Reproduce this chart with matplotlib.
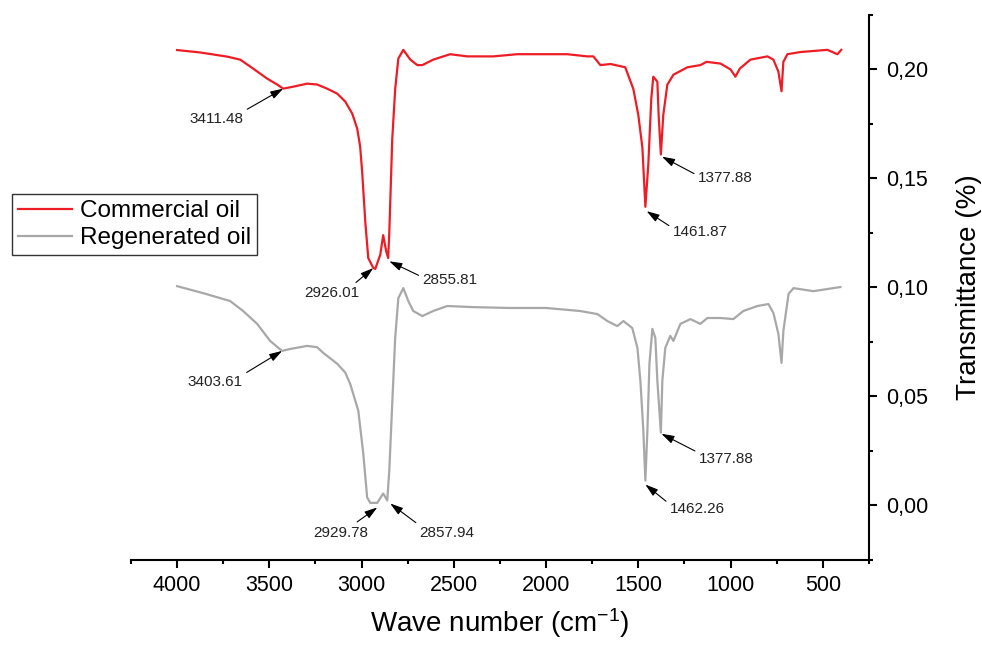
import matplotlib
matplotlib.use('Agg')
import matplotlib.pyplot as plt
from matplotlib.ticker import MultipleLocator, FuncFormatter

plt.rcParams['font.family'] = ['Liberation Sans', 'DejaVu Sans']
plt.rcParams['mathtext.fontset'] = 'custom'
plt.rcParams['mathtext.rm'] = 'Liberation Sans'
plt.rcParams['mathtext.it'] = 'Liberation Sans:italic'

# FTIR spectra (wave number, transmittance)
commercial_x = [4000, 3875, 3729, 3658, 3588, 3512, 3458, 3425, 3371, 3295, 3241, 3187,
                3132, 3089, 3051, 3024, 3008, 2997, 2980, 2964, 2937, 2926, 2899, 2883,
                2867, 2856, 2850, 2834, 2818, 2801, 2774, 2736, 2698, 2671, 2612, 2520,
                2427, 2286, 2156, 1885, 1777, 1744, 1706, 1650, 1571, 1527, 1500, 1478,
                1462, 1446, 1430, 1419, 1397, 1390, 1378, 1365, 1343, 1310, 1234, 1164,
                1130, 1055, 1000, 974, 950, 893, 800, 768, 741, 724, 714, 692, 621,
                475, 421, 400]
commercial_y = [0.2089, 0.2078, 0.2059, 0.2045, 0.2004, 0.1958, 0.1931, 0.1912, 0.1921, 0.1935, 0.1931, 0.1912,
                0.1889, 0.1853, 0.1798, 0.1729, 0.1647, 0.153, 0.130, 0.1135, 0.109, 0.1085, 0.115, 0.124,
                0.1167, 0.1135, 0.125, 0.168, 0.191, 0.205, 0.209, 0.2045, 0.202, 0.202, 0.2045, 0.207,
                0.206, 0.206, 0.207, 0.207, 0.206, 0.206, 0.202, 0.2025, 0.201, 0.191, 0.179, 0.164,
                0.137, 0.1565, 0.1865, 0.1967, 0.1944, 0.179, 0.161, 0.179, 0.193, 0.1976, 0.201, 0.202,
                0.2035, 0.2027, 0.200, 0.1967, 0.2004, 0.2045, 0.206, 0.2045, 0.199, 0.190, 0.2035, 0.207, 0.208,
                0.209, 0.207, 0.209]

regenerated_x = [4000, 3859, 3713, 3642, 3566, 3496, 3458, 3431, 3387, 3295, 3241, 3208,
                 3132, 3089, 3062, 3018, 2991, 2970, 2953, 2915, 2883, 2861, 2850, 2834,
                 2818, 2801, 2774, 2747, 2720, 2671, 2612, 2536, 2400, 2200, 2000, 1815,
                 1722, 1668, 1614, 1581, 1533, 1505, 1489, 1473, 1462, 1451, 1440, 1424,
                 1408, 1397, 1378, 1370, 1354, 1327, 1310, 1272, 1218, 1164, 1126, 1055,
                 985, 931, 855, 795, 768, 741, 724, 714, 686, 659, 551, 405]
regenerated_y = [0.1006, 0.0974, 0.0938, 0.0892, 0.0833, 0.0755, 0.0728, 0.0709, 0.0718, 0.0732, 0.0726, 0.070,
                 0.065, 0.0610, 0.0558, 0.0435, 0.0238, 0.0037, 0.0012, 0.0012, 0.0055, 0.0023, 0.016, 0.0467,
                 0.0769, 0.0951, 0.0997, 0.0938, 0.0892, 0.0869, 0.0892, 0.0915, 0.091, 0.0906, 0.0906, 0.0892,
                 0.0878, 0.0846, 0.0823, 0.0846, 0.0814, 0.0723, 0.0572, 0.0343, 0.0114, 0.0343, 0.065, 0.081,
                 0.0769, 0.0572, 0.0334, 0.0572, 0.0723, 0.0778, 0.0755, 0.0833, 0.0855, 0.0833, 0.086, 0.086,
                 0.0855, 0.0892, 0.0915, 0.0924, 0.0883, 0.0787, 0.0654, 0.080, 0.097, 0.0997, 0.0983, 0.1002]

# peak labels and the points their arrows touch
peak_labels = ['3411.48', '2926.01', '2855.81', '1461.87', '1377.88',
               '3403.61', '2929.78', '2857.94', '1462.26', '1377.88']
peak_x = [3425, 2937, 2850, 1455, 1372, 3431, 2915, 2845, 1462, 1375]
peak_y = [0.1912, 0.1089, 0.112, 0.135, 0.160, 0.0709, -0.0009, 0.0009, 0.0096, 0.0329]

# where the labels sit, and which corner of the label the arrow leaves from
label_x = [3788, 3159, 2520, 1164, 1028, 3794, 3111, 2536, 1180, 1023]
label_y = [0.1775, 0.0974, 0.1034, 0.1253, 0.150, 0.0567, -0.0124, -0.0124, -0.0014, 0.0215]
label_rel = [(1, 1), (0.85, 1), (0, 0.7), (0, 0.8), (0, 0.7),
             (1, 1), (0.7, 1), (0, 1), (0, 0.8), (0, 0.9)]

fig = plt.figure(figsize=(9.82, 6.45), dpi=100)
ax = fig.add_axes([0.1334, 0.1318, 0.7515, 0.845])

ax.plot(commercial_x, commercial_y, color='#ee1c25', lw=1.6, label='Commercial oil')
ax.plot(regenerated_x, regenerated_y, color='#a8a8a8', lw=1.6, label='Regenerated oil')

for lab, px, py, tx, ty, rp in zip(peak_labels, peak_x, peak_y, label_x, label_y, label_rel):
    ax.annotate(lab, xy=(px, py), xytext=(tx, ty), ha='center', va='center',
                fontsize=11, color='#222222',
                arrowprops=dict(arrowstyle='-|>,head_length=0.7,head_width=0.22',
                                color='black', lw=0.8, relpos=rp,
                                shrinkA=1, shrinkB=0))

ax.set_xlim(4250, 250)
ax.set_ylim(-0.025, 0.225)

ax.spines['left'].set_visible(False)
ax.spines['top'].set_visible(False)
ax.spines['right'].set_linewidth(1.5)
ax.spines['bottom'].set_linewidth(1.5)

ax.xaxis.set_major_locator(MultipleLocator(500))
ax.xaxis.set_minor_locator(MultipleLocator(250))
ax.yaxis.set_major_locator(MultipleLocator(0.05))
ax.yaxis.set_minor_locator(MultipleLocator(0.025))
ax.yaxis.set_major_formatter(FuncFormatter(lambda v, p: f'{v:.2f}'.replace('.', ',').replace('-0,00', '0,00')))

ax.yaxis.tick_right()
ax.yaxis.set_label_position('right')
ax.tick_params(axis='both', which='major', length=5.5, width=1.5, labelsize=15.5, direction='out')
ax.tick_params(axis='both', which='minor', length=3, width=1.5, direction='out')
ax.tick_params(axis='x', pad=5)
ax.tick_params(axis='y', pad=7)

ax.set_xlabel('Wave number (cm$^{-1}$)', fontsize=20, labelpad=8)
ax.set_ylabel('Transmittance (%)', fontsize=20, labelpad=20)

leg = fig.legend(loc='upper left', bbox_to_anchor=(0.0122, 0.699), fontsize=17.5,
                 frameon=True, fancybox=False, edgecolor='black', borderaxespad=0,
                 borderpad=0.25, labelspacing=0.2, handlelength=2.2, handletextpad=0.35)
leg.get_frame().set_linewidth(1.0)

fig.savefig('out.png', dpi=100)
